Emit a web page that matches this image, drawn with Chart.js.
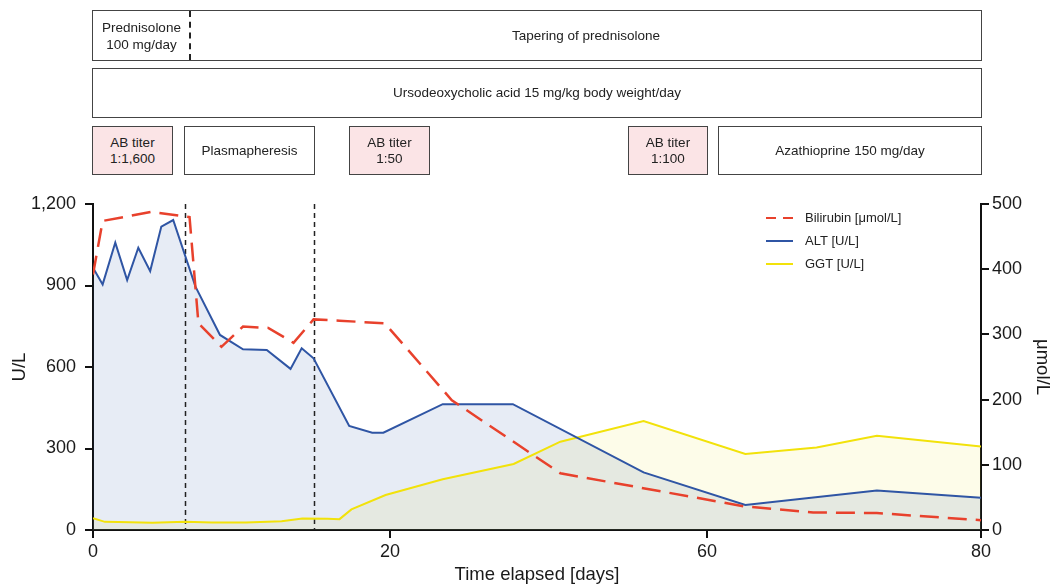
<!DOCTYPE html>
<html>
<head>
<meta charset="utf-8">
<title>Liver values over time</title>
<script src="https://cdn.jsdelivr.net/npm/chart.js@4.4.1/dist/chart.umd.min.js"></script>
<style>
  html, body { margin: 0; padding: 0; background: #fff; }
  #wrap { position: relative; width: 1056px; height: 585px; font-family: "Liberation Sans", Arial, sans-serif; }
  #chart { position: absolute; left: 0; top: 0; }
  .box {
    position: absolute; box-sizing: border-box; border: 1.5px solid #444;
    display: flex; align-items: center; justify-content: center;
    text-align: center; font-size: 13.5px; line-height: 16px; color: #222; background: #fff;
  }
  .pink { background: #fbe4e6; }
  .split { position: absolute; top: 0; bottom: 0; display: flex; align-items: center; justify-content: center; }
</style>
</head>
<body>
<div id="wrap">
  <canvas id="chart" width="1056" height="585"></canvas>

  <!-- treatment timeline -->
  <div class="box" style="left:92px; top:10px; width:890px; height:51px;">
    <div class="split" style="left:0; width:97px; line-height:17px;">Prednisolone<br>100 mg/day</div>
    <div class="split" style="left:96px; width:0; border-left:2px dashed #222;"></div>
    <div class="split" style="left:98px; right:0;">Tapering of prednisolone</div>
  </div>
  <div class="box" style="left:92px; top:68px; width:890px; height:50px;">Ursodeoxycholic acid 15 mg/kg body weight/day</div>
  <div class="box pink" style="left:92px; top:126px; width:81px; height:49px;">AB titer<br>1:1,600</div>
  <div class="box" style="left:184px; top:126px; width:131px; height:49px;">Plasmapheresis</div>
  <div class="box pink" style="left:349px; top:126px; width:81px; height:49px;">AB titer<br>1:50</div>
  <div class="box pink" style="left:628px; top:126px; width:80px; height:49px;">AB titer<br>1:100</div>
  <div class="box" style="left:718px; top:126px; width:264px; height:49px;">Azathioprine 150 mg/day</div>
</div>

<script>
// values (days, U/L or µmol/L)
const altDays   = [0, 0.65, 1.5, 2.3, 3.05, 3.85, 4.6, 5.4, 6.9, 8.55, 10.1, 11.7, 13.3, 14.05, 14.85, 17.25, 18.8, 19.55, 26.65, 35.5, 52, 62.8, 72.4, 80];
const altValues = [965, 904, 1058, 920, 1039, 953, 1117, 1141, 896, 718, 665, 663, 593, 669, 632, 383, 358, 358, 463, 463, 212, 92, 145, 119];

const ggtDays   = [0, 0.8, 1.7, 4, 6.2, 8, 10.3, 12.7, 14.1, 15.8, 16.6, 17.4, 19.7, 26.65, 35.6, 41.5, 52, 62.8, 68, 72.4, 80];
const ggtValues = [43, 30, 29, 27, 30, 28, 28, 32, 42, 41, 40, 76, 129, 187, 243, 325, 401, 280, 304, 347, 307];

const biliDays   = [0, 0.65, 3.95, 6.5, 7.1, 8.65, 10.1, 11.8, 13.5, 14.85, 16.6, 19.65, 27.8, 41.5, 62.8, 67.75, 72.4, 80];
const biliValues = [392, 474, 488, 480, 317, 281, 312, 310, 287, 323, 321, 317, 199, 87, 36, 27, 26, 15];

const xTicks = [0, 20, 60, 80];
const markerDays = [6.2, 14.9];   // start / end of plasmapheresis

// the original x axis is not uniform: each tick interval has its own length
const xBreakDays = [0, 20, 60, 80];
const xBreakFrac = [0, 0.3345, 0.6914, 1];

function dayToFrac(v) {
  let i = 0;
  while (i < xBreakDays.length - 2 && v > xBreakDays[i + 1]) i++;
  const t = (v - xBreakDays[i]) / (xBreakDays[i + 1] - xBreakDays[i]);
  return xBreakFrac[i] + t * (xBreakFrac[i + 1] - xBreakFrac[i]);
}
function fracToDay(f) {
  let i = 0;
  while (i < xBreakFrac.length - 2 && f > xBreakFrac[i + 1]) i++;
  const t = (f - xBreakFrac[i]) / (xBreakFrac[i + 1] - xBreakFrac[i]);
  return xBreakDays[i] + t * (xBreakDays[i + 1] - xBreakDays[i]);
}

class SegmentScale extends Chart.LinearScale {
  getPixelForValue(value) {
    if (value === null || value === undefined) return NaN;
    return this.getPixelForDecimal(dayToFrac(value));
  }
  getValueForPixel(pixel) {
    return fracToDay(this.getDecimalForPixel(pixel));
  }
}
SegmentScale.id = 'segment';
SegmentScale.defaults = Chart.LinearScale.defaults;
Chart.register(SegmentScale);

const toPoints = (xs, ys) => xs.map((x, i) => ({ x: x, y: ys[i] }));

const FONT = '"Liberation Sans", Arial, sans-serif';
const INK = '#1a1a1a';
Chart.defaults.font.family = FONT;
Chart.defaults.color = INK;

const markerPlugin = {
  id: 'markers',
  beforeDatasetsDraw(chart) {
    const { ctx, chartArea, scales } = chart;
    ctx.save();
    ctx.strokeStyle = '#222';
    ctx.lineWidth = 1.5;
    ctx.setLineDash([5, 4]);
    markerDays.forEach(d => {
      const x = Math.round(scales.x.getPixelForValue(d)) + 0.5;
      ctx.beginPath();
      ctx.moveTo(x, chartArea.top);
      ctx.lineTo(x, chartArea.bottom);
      ctx.stroke();
    });
    ctx.restore();
  }
};

const legendPlugin = {
  id: 'sideLegend',
  afterDatasetsDraw(chart) {
    const { ctx, chartArea } = chart;
    const x0 = chartArea.right - 215;
    ctx.save();
    ctx.font = '13px ' + FONT;
    ctx.textBaseline = 'middle';
    chart.data.datasets.forEach((ds, i) => {
      const y = chartArea.top + 14 + i * 23;
      ctx.strokeStyle = ds.borderColor;
      ctx.lineWidth = 2;
      ctx.setLineDash(ds.borderDash ? [10, 7] : []);
      ctx.beginPath();
      ctx.moveTo(x0, y);
      ctx.lineTo(x0 + 27, y);
      ctx.stroke();
      ctx.setLineDash([]);
      ctx.fillStyle = '#222';
      ctx.fillText(ds.label, x0 + 39, y);
    });
    ctx.restore();
  }
};

const axisLine = { color: '#111', width: 2 };
const tickGrid = { drawOnChartArea: false, color: '#111', lineWidth: 2, tickLength: 8 };

new Chart(document.getElementById('chart'), {
  type: 'line',
  data: {
    datasets: [
      {
        label: 'Bilirubin [μmol/L]',
        data: toPoints(biliDays, biliValues),
        yAxisID: 'y1',
        borderColor: '#e8412c',
        borderWidth: 2.5,
        borderDash: [19, 9],
        fill: false,
        pointRadius: 0
      },
      {
        label: 'ALT [U/L]',
        data: toPoints(altDays, altValues),
        yAxisID: 'y',
        borderColor: '#2f55a4',
        backgroundColor: 'rgba(40, 80, 160, 0.11)',
        borderWidth: 2,
        fill: 'origin',
        pointRadius: 0
      },
      {
        label: 'GGT [U/L]',
        data: toPoints(ggtDays, ggtValues),
        yAxisID: 'y',
        borderColor: '#f2e20a',
        backgroundColor: 'rgba(240, 230, 40, 0.1)',
        borderWidth: 2,
        fill: 'origin',
        pointRadius: 0
      }
    ]
  },
  options: {
    responsive: false,
    animation: false,
    devicePixelRatio: 1,
    layout: { padding: { top: 204, left: 0, right: 0, bottom: 0 } },
    elements: { line: { tension: 0 } },
    plugins: {
      legend: { display: false },
      tooltip: { enabled: false },
      filler: { drawTime: 'beforeDatasetsDraw' }
    },
    scales: {
      x: {
        type: 'segment',
        min: 0,
        max: 80,
        afterBuildTicks: s => { s.ticks = xTicks.map(v => ({ value: v })); },
        afterFit: s => { s.height = 55; },
        border: axisLine,
        grid: tickGrid,
        ticks: { font: { size: 18 }, color: INK, padding: 3, maxRotation: 0 },
        title: { display: true, text: 'Time elapsed [days]', font: { size: 18.5 }, color: INK, padding: { top: 0, bottom: -1 } }
      },
      y: {
        position: 'left',
        min: 0,
        max: 1200,
        afterFit: s => { s.width = 93; },
        border: axisLine,
        grid: tickGrid,
        ticks: { stepSize: 300, font: { size: 18 }, color: INK, padding: 9 },
        title: { display: true, text: 'U/L', font: { size: 18.5 }, color: INK, padding: { top: 9, bottom: 0 } }
      },
      y1: {
        position: 'right',
        min: 0,
        max: 500,
        afterFit: s => { s.width = 75; },
        border: axisLine,
        grid: tickGrid,
        ticks: { stepSize: 100, font: { size: 18 }, color: INK, padding: 3 },
        title: { display: true, text: 'μmol/L', font: { size: 18.5 }, color: INK, padding: { top: 3, bottom: 0 } }
      }
    }
  },
  plugins: [markerPlugin, legendPlugin]
});
</script>
</body>
</html>
